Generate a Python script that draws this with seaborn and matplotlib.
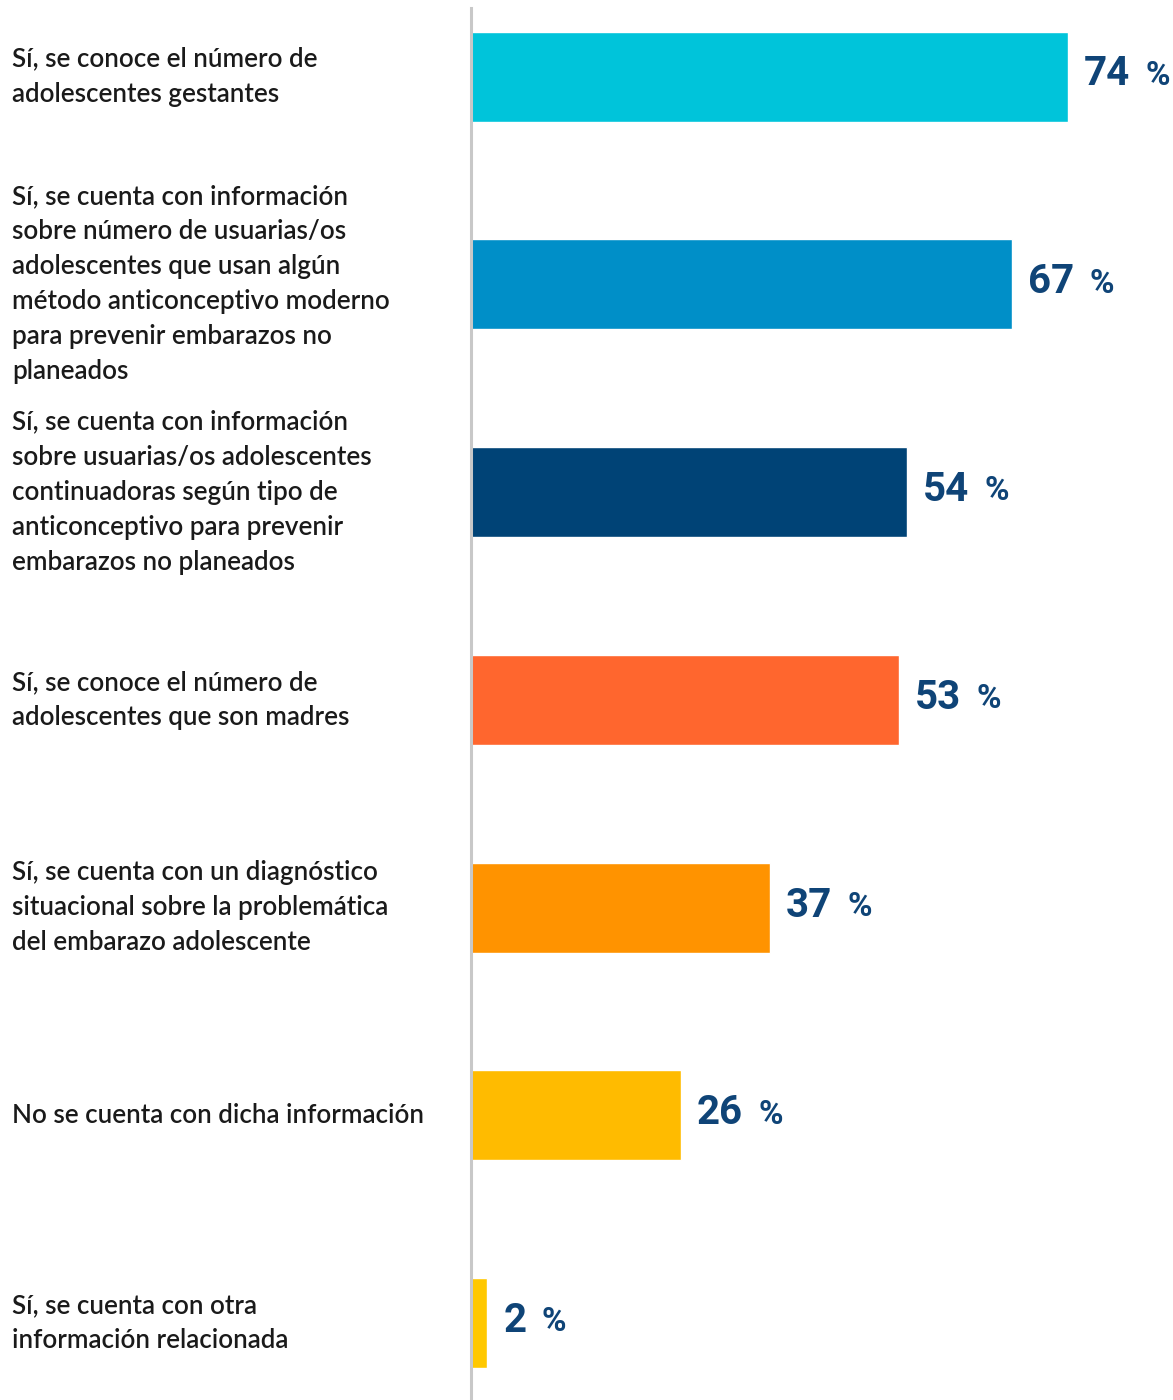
import matplotlib.pyplot as plt
import matplotlib.transforms as mtransforms
import seaborn as sns
import pandas as pd

categorias = [
    "Sí, se conoce el número de\nadolescentes gestantes",
    "Sí, se cuenta con información\nsobre número de usuarias/os\nadolescentes que usan algún\nmétodo anticonceptivo moderno\npara prevenir embarazos no\nplaneados",
    "Sí, se cuenta con información\nsobre usuarias/os adolescentes\ncontinuadoras según tipo de\nanticonceptivo para prevenir\nembarazos no planeados",
    "Sí, se conoce el número de\nadolescentes que son madres",
    "Sí, se cuenta con un diagnóstico\nsituacional sobre la problemática\ndel embarazo adolescente",
    "No se cuenta con dicha información",
    "Sí, se cuenta con otra\ninformación relacionada",
]
porcentajes = [74, 67, 54, 53, 37, 26, 2]
colores = ["#00C4DA", "#008FC8", "#004376", "#FF662E", "#FF9300", "#FFBB00", "#FFC800"]

df = pd.DataFrame({"cat": categorias, "pct": porcentajes})

sns.set_style("white")
plt.rcParams["font.family"] = ["Lato", "DejaVu Sans"]

fig = plt.figure(figsize=(11.73, 14), dpi=100)
ax = fig.add_axes([471 / 1173, 0, 1 - 471 / 1173, 1 - 8 / 1400])

sns.barplot(data=df, x="pct", y="cat", hue="cat", palette=colores, legend=False,
            orient="h", width=0.433, ax=ax, saturation=1)

ax.set_xlim(0, 87.0)
ax.set_ylim(6.37, -0.33)
ax.set_xlabel("")
ax.set_ylabel("")
ax.set_xticks([])
ax.set_yticks([])
for s in ["top", "right", "bottom"]:
    ax.spines[s].set_visible(False)
ax.spines["left"].set_color("#c8c8c8")
ax.spines["left"].set_linewidth(2.2)

azul = "#0F4477"
for i, v in enumerate(porcentajes):
    t = ax.text(v + 2.0, i - 0.01, f"{v}", va="center", ha="left", fontsize=29,
                fontweight="bold", color=azul, family=["Roboto", "DejaVu Sans"])
    ax.annotate("%", xy=(1, 0.5), xycoords=t, xytext=(11, -1), textcoords="offset points",
                va="center", ha="left", fontsize=24, fontweight="semibold", color=azul,
                family=["Roboto", "DejaVu Sans"])

trans = mtransforms.blended_transform_factory(fig.transFigure, ax.transData)
for i, c in enumerate(categorias):
    fig.text(12 / 1173, i, c, transform=trans, va="center", ha="left",
             fontsize=18.7, fontweight="semibold", color="#1a1a1a", linespacing=1.5)

fig.savefig("out.png", dpi=100)
